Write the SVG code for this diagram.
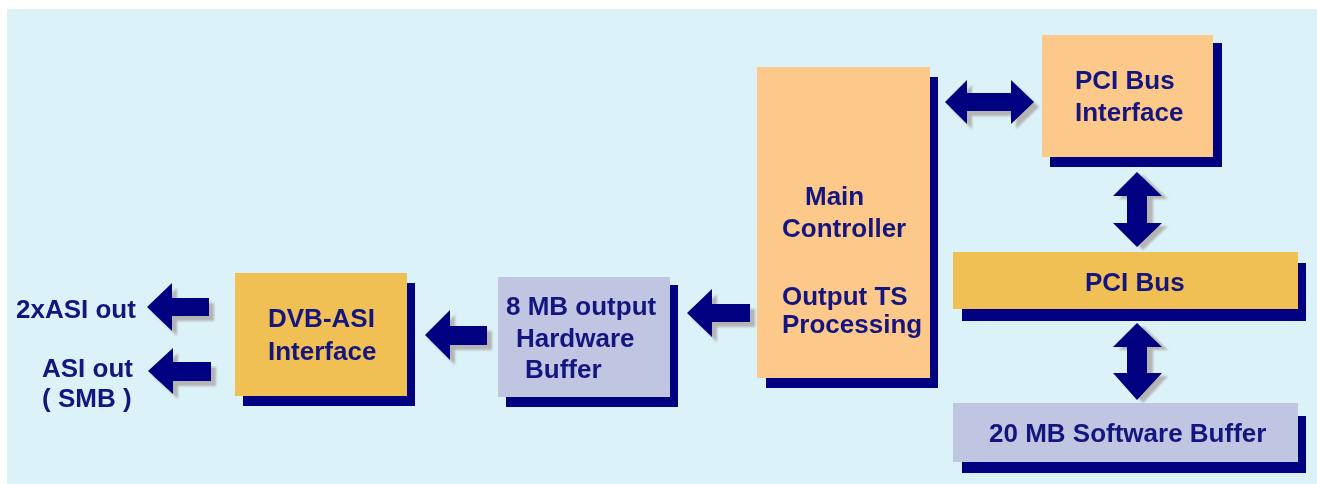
<svg xmlns="http://www.w3.org/2000/svg" xmlns:xlink="http://www.w3.org/1999/xlink" width="1317" height="484" viewBox="0 0 1317 484">
<style>
.txt{font-family:"Liberation Sans",Arial,sans-serif;font-weight:bold;font-size:26px;fill:#15157f}
.shadow{fill:#000080}
.peach{fill:#FCC98B}
.gold{fill:#F0C055}
.lav{fill:#C0C6E1}
.arrow{fill:#000080}
.ashadow{fill:#b4b4b4}
</style>
<defs>
<filter id="soft" x="-10%" y="-10%" width="120%" height="120%"><feGaussianBlur stdDeviation="1"/></filter>
</defs>
<rect x="0" y="0" width="1317" height="484" fill="#ffffff"/>
<rect x="7" y="9" width="1310" height="475" fill="#DCF2F9"/>

<g id="connectors">
  <g filter="url(#soft)">
    <polygon class="ashadow" transform="translate(5,5)" points="687,313 712,289 712,304 750,304 750,322 712,322 712,337"/>
    <polygon class="ashadow" transform="translate(5,5)" points="425,335 450,310 450,326 487,326 487,345 450,345 450,360"/>
    <polygon class="ashadow" transform="translate(5,5)" points="147,307 172,283 172,298 209,298 209,316 172,316 172,331"/>
    <polygon class="ashadow" transform="translate(5,5)" points="148,371 173,348 173,362 211,362 211,381 173,381 173,394"/>
    <polygon class="ashadow" transform="translate(5,5)" points="945,102 967,80 967,93 1011,93 1011,80 1034,102 1011,124 1011,111 967,111 967,124"/>
    <polygon class="ashadow" transform="translate(6,3)" points="1137,172 1162,196 1147,196 1147,223 1162,223 1137,247 1113,223 1127,223 1127,196 1113,196"/>
    <polygon class="ashadow" transform="translate(6,3)" points="1137,323 1162,347 1147,347 1147,373 1162,373 1137,400 1113,373 1127,373 1127,347 1113,347"/>
  </g>
  <polygon class="arrow" points="687,313 712,289 712,304 750,304 750,322 712,322 712,337"/>
  <polygon class="arrow" points="425,335 450,310 450,326 487,326 487,345 450,345 450,360"/>
  <polygon class="arrow" points="147,307 172,283 172,298 209,298 209,316 172,316 172,331"/>
  <polygon class="arrow" points="148,371 173,348 173,362 211,362 211,381 173,381 173,394"/>
  <polygon class="arrow" points="945,102 967,80 967,93 1011,93 1011,80 1034,102 1011,124 1011,111 967,111 967,124"/>
  <polygon class="arrow" points="1137,172 1162,196 1147,196 1147,223 1162,223 1137,247 1113,223 1127,223 1127,196 1113,196"/>
  <polygon class="arrow" points="1137,323 1162,347 1147,347 1147,373 1162,373 1137,400 1113,373 1127,373 1127,347 1113,347"/>
</g>

<g id="main-controller">
  <rect class="shadow" x="766" y="77" width="172" height="311"/>
  <rect class="peach" x="757" y="67" width="173" height="311"/>
  <text class="txt" x="805" y="205">Main</text>
  <text class="txt" x="782" y="237">Controller</text>
  <text class="txt" x="782" y="305">Output TS</text>
  <text class="txt" x="782" y="333">Processing</text>
</g>

<g id="pci-bus-interface">
  <rect class="shadow" x="1050" y="43" width="172" height="124"/>
  <rect class="peach" x="1042" y="35" width="171" height="122"/>
  <text class="txt" x="1075" y="89">PCI Bus</text>
  <text class="txt" x="1075" y="121">Interface</text>
</g>

<g id="pci-bus">
  <rect class="shadow" x="962" y="263" width="344" height="58"/>
  <rect class="gold" x="953" y="252" width="345" height="57"/>
  <text class="txt" x="1085" y="291">PCI Bus</text>
</g>

<g id="software-buffer">
  <rect class="shadow" x="962" y="416" width="344" height="57"/>
  <rect class="lav" x="953" y="403" width="345" height="59"/>
  <text class="txt" x="989" y="442">20 MB Software Buffer</text>
</g>

<g id="hardware-buffer">
  <rect class="shadow" x="506" y="285" width="172" height="122"/>
  <rect class="lav" x="498" y="277" width="172" height="120"/>
  <text class="txt" x="506" y="315">8 MB output</text>
  <text class="txt" x="516" y="347">Hardware</text>
  <text class="txt" x="525" y="378">Buffer</text>
</g>

<g id="dvb-asi">
  <rect class="shadow" x="243" y="283" width="172" height="123"/>
  <rect class="gold" x="235" y="273" width="172" height="123"/>
  <text class="txt" x="268" y="327">DVB-ASI</text>
  <text class="txt" x="268" y="360">Interface</text>
</g>

<g id="asi-out-2x">
  <text class="txt" x="16" y="318">2xASI out</text>
</g>

<g id="asi-out-smb">
  <text class="txt" x="42" y="377">ASI out</text>
  <text class="txt" x="42" y="407">( SMB )</text>
</g>
</svg>
